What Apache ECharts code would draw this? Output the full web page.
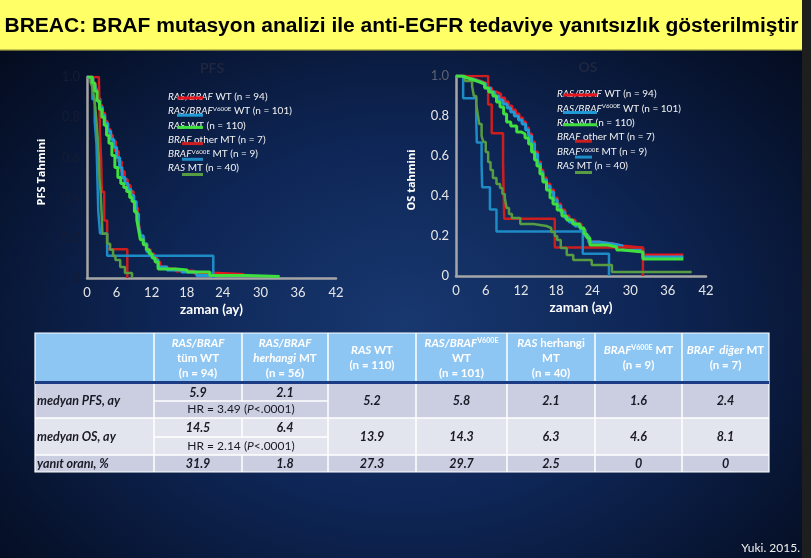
<!DOCTYPE html>
<html><head><meta charset="utf-8">
<script src="https://cdn.jsdelivr.net/npm/echarts@6.0.0/dist/echarts.min.js"></script>
<style>
html,body{margin:0;padding:0;background:#1e1e1e;}
#c{width:811px;height:558px;background:
 linear-gradient(to right, rgba(0,0,0,0) 802px, #1e1e1e 802px),
 radial-gradient(ellipse 72% 78% at 50% 58%, #183870 0%, #0e2656 42%, #07132e 78%, #030818 100%);}
</style></head>
<body><div id="c"></div>
<script>
// ---------------- data ----------------
const titleText = 'BREAC: BRAF mutasyon analizi ile anti-EGFR tedaviye yanıtsızlık gösterilmiştir';
const pfsTitle = 'PFS';
const osTitle = 'OS';
const xName = 'zaman (ay)';
const pfsYName = 'PFS Tahmini';
const osYName = 'OS tahmini';
const xTicks = [0, 6, 12, 18, 24, 30, 36, 42];
const yTicks = [0, 0.2, 0.4, 0.6, 0.8, 1.0];
const seriesNames = ['RAS/BRAF WT (n = 94)', 'RAS/BRAF V600E WT (n = 101)', 'RAS WT (n = 110)',
                     'BRAF other MT (n = 7)', 'BRAF V600E MT (n = 9)', 'RAS MT (n = 40)'];
const legendLabels = ['{i|RAS/BRAF} WT (n = 94)', '{i|RAS/BRAF}{s|V600E} WT (n = 101)', '{i|RAS} WT (n = 110)',
                      '{i|BRAF} other MT (n = 7)', '{i|BRAF}{s|V600E} MT (n = 9)', '{i|RAS} MT (n = 40)'];
const curveColors = ['#e8161c', '#1f9ad6', '#3fdf3f', '#cc1e1e', '#1d8bc6', '#579c42'];

// PFS curves [months, survival]
const pfsRasBrafWT = [[0,1],[0.6,1],[1.0,0.97],[1.4,0.94],[1.8,0.90],[2.1,0.86],[2.5,0.82],[3.0,0.78],[3.4,0.74],[3.9,0.71],[4.3,0.68],[4.8,0.63],[5.3,0.58],[5.8,0.53],[6.3,0.49],[6.8,0.46],[7.3,0.43],[7.8,0.40],[8.1,0.35],[8.5,0.30],[8.8,0.25],[9.1,0.20],[9.6,0.17],[10.1,0.14],[10.7,0.12],[11.3,0.10],[11.8,0.08],[12.3,0.055],[13.5,0.045],[15,0.035],[18,0.025],[21,0.018],[26.5,0.018]];
const pfsV600eWT = [[0,1],[0.6,1],[1.0,0.96],[1.4,0.93],[1.8,0.89],[2.2,0.85],[2.6,0.81],[3.0,0.77],[3.5,0.73],[4.0,0.69],[4.5,0.65],[5.0,0.60],[5.5,0.55],[5.9,0.50],[6.4,0.47],[6.9,0.44],[7.4,0.41],[7.9,0.38],[8.3,0.32],[8.7,0.26],[9.0,0.21],[9.5,0.17],[10.1,0.13],[10.7,0.11],[11.4,0.09],[12.0,0.055],[13.5,0.04],[16,0.03],[18.5,0.012],[22,0.012]];
const pfsRasWT = [[0,1],[0.5,1],[0.9,0.97],[1.3,0.93],[1.7,0.88],[2.1,0.84],[2.5,0.80],[2.9,0.76],[3.3,0.71],[3.7,0.67],[4.2,0.61],[4.7,0.55],[5.2,0.50],[5.7,0.47],[6.2,0.45],[6.7,0.43],[7.2,0.40],[7.6,0.38],[8.0,0.33],[8.4,0.29],[8.7,0.24],[9.0,0.19],[9.5,0.165],[10.0,0.14],[10.5,0.12],[11.0,0.10],[11.5,0.08],[12.0,0.045],[15,0.04],[16.9,0.03],[20.7,0.012],[27,0.008],[32.5,0.008]];
const pfsBrafOtherMT = [[0,1],[2.0,1],[2.1,0.857],[2.2,0.714],[2.4,0.571],[2.5,0.429],[2.9,0.286],[3.4,0.143],[6.8,0]];
const pfsBrafV600eMT = [[0,1],[0.9,0.889],[1.3,0.778],[1.6,0.667],[1.7,0.556],[1.8,0.444],[1.9,0.333],[2.2,0.222],[3.4,0.111],[21.3,0]];
const pfsRasMT = [[0,1],[0.6,0.975],[0.9,0.95],[1.2,0.90],[1.4,0.85],[1.6,0.78],[1.8,0.70],[2.0,0.60],[2.1,0.50],[2.3,0.43],[2.5,0.30],[2.6,0.22],[3.4,0.17],[3.9,0.14],[4.4,0.11],[4.8,0.09],[5.6,0.055],[6.4,0.025],[7.6,0]];

// OS curves [months, survival]
const osRasBrafWT = [[0,1],[1.5,0.99],[2.5,0.98],[3.5,0.97],[4.5,0.96],[5.3,0.94],[6.0,0.92],[6.8,0.91],[7.5,0.89],[8.2,0.87],[8.8,0.85],[9.4,0.83],[10.0,0.81],[10.6,0.79],[11.2,0.77],[11.7,0.74],[12.2,0.71],[12.7,0.67],[13.2,0.62],[13.7,0.57],[14.2,0.53],[14.6,0.49],[15.2,0.46],[15.8,0.43],[16.4,0.39],[17.0,0.36],[17.6,0.33],[18.3,0.30],[19.0,0.28],[20.0,0.26],[21.0,0.23],[21.7,0.20],[22.3,0.17],[24,0.16],[26.4,0.15],[28,0.14],[31.4,0.105],[38.2,0.105]];
const osV600eWT = [[0,1],[1.2,0.99],[2.2,0.98],[3.2,0.97],[4.2,0.96],[5.0,0.94],[5.8,0.92],[6.5,0.90],[7.2,0.88],[7.9,0.86],[8.6,0.84],[9.2,0.82],[9.8,0.80],[10.5,0.78],[11.1,0.76],[11.7,0.73],[12.2,0.70],[12.7,0.66],[13.2,0.61],[13.7,0.56],[14.2,0.52],[14.6,0.48],[15.2,0.45],[15.8,0.42],[16.4,0.38],[17.0,0.35],[17.6,0.32],[18.3,0.29],[19.0,0.27],[20.0,0.25],[21.0,0.23],[21.7,0.20],[22.3,0.17],[24,0.16],[26.4,0.15],[28,0.13],[31.4,0.095],[38.2,0.095]];
const osRasWT = [[0,1],[1,0.99],[2,0.98],[3,0.97],[4,0.96],[4.8,0.94],[5.5,0.92],[6.2,0.90],[6.8,0.87],[7.4,0.845],[8.0,0.81],[8.5,0.77],[9.2,0.75],[10.2,0.72],[11.0,0.71],[11.6,0.69],[12.2,0.66],[12.7,0.62],[13.2,0.58],[13.6,0.55],[14.1,0.51],[14.6,0.47],[15.2,0.43],[15.8,0.39],[16.3,0.36],[17.0,0.33],[17.8,0.30],[18.6,0.28],[19.6,0.26],[20.8,0.24],[21.5,0.21],[22.0,0.19],[22.5,0.155],[25.5,0.145],[27,0.13],[28,0.12],[31.4,0.085],[38.2,0.085]];
const osBrafOtherMT = [[0,1],[5.4,0.857],[6.0,0.714],[7.9,0.571],[8.0,0.429],[8.1,0.286],[16.6,0.143],[31.4,0]];
const osBrafV600eMT = [[0,1],[1.2,0.889],[3.4,0.778],[3.5,0.667],[4.3,0.556],[4.4,0.444],[5.7,0.333],[6.8,0.222],[21.3,0.111],[25.7,0]];
const osRasMT = [[0,1],[1.5,0.975],[2.7,0.95],[3.0,0.90],[3.4,0.86],[3.7,0.80],[3.9,0.76],[4.3,0.70],[4.6,0.67],[5.0,0.62],[5.4,0.57],[5.8,0.53],[6.2,0.49],[6.8,0.46],[7.4,0.44],[7.8,0.41],[8.2,0.39],[8.5,0.34],[8.9,0.31],[9.4,0.29],[10.8,0.26],[13,0.25],[15.2,0.24],[16.0,0.22],[16.6,0.20],[17.0,0.18],[17.6,0.14],[18.6,0.105],[19.7,0.08],[22.8,0.055],[26.2,0.02],[39.6,0.02]];

// table
const tableHeaders = [
  ['{i|RAS/BRAF}', 'tüm WT', '(n = 94)'],
  ['{i|RAS/BRAF}', '{i|herhangi} MT', '(n = 56)'],
  ['{i|RAS} WT', '(n = 110)'],
  ['{i|RAS/BRAF}{s|V600E}', 'WT', '(n = 101)'],
  ['{i|RAS} herhangi', 'MT', '(n = 40)'],
  ['{i|BRAF}{s|V600E} MT', '(n = 9)'],
  ['{i|BRAF  diğer} MT', '(n = 7)']
];
const rowLabels = ['medyan PFS, ay', 'medyan OS, ay', 'yanıt oranı, %'];
const pfsMedians = [5.9, 2.1, 5.2, 5.8, 2.1, 1.6, 2.4];
const osMedians = [14.5, 6.4, 13.9, 14.3, 6.3, 4.6, 8.1];
const responseRates = [31.9, 1.8, 27.3, 29.7, 2.5, 0, 0];
const hrLabels = ['HR = 3.49 ({i|P}<.0001)', 'HR = 2.14 ({i|P}<.0001)'];
const sourceNote = 'Yuki. 2015.';

// ---------------- helpers ----------------
function fnt(size, weight, italic, family) {
  return {fontSize: size, fontWeight: weight || 'normal', fontStyle: italic ? 'italic' : 'normal', fontFamily: family || 'Lato'};
}
function richSet(size, weight, color, family) {
  return {
    n: Object.assign({fill: color}, fnt(size, weight, false, family)),
    i: Object.assign({fill: color}, fnt(size, weight, true, family)),
    s: Object.assign({fill: color, verticalAlign: 'top'}, fnt(Math.round(size * 0.62 * 10) / 10, weight, false, family))
  };
}
function txt(x, y, text, size, weight, italic, color, align, extra) {
  const st = Object.assign({
    text: text, fill: color, align: align || 'center', verticalAlign: 'middle',
    rich: richSet(size, weight, color)
  }, fnt(size, weight, italic));
  return Object.assign({type: 'text', x: x, y: y, silent: true, style: st}, extra || {});
}

// title size fitted to the slide width
const mc = document.createElement('canvas').getContext('2d');
mc.font = 'bold 20px "Liberation Sans"';
const titleFs = 20 * 795 / mc.measureText(titleText).width;

const G = [];
G.push({type: 'rect', shape: {x: 0, y: 0, width: 802, height: 50}, style: {fill: '#ffff66'}, silent: true});
G.push({type: 'rect', shape: {x: 0, y: 49.5, width: 802, height: 1.2}, style: {fill: '#8c8c38'}, silent: true});
G.push({type: 'text', x: 401.5, y: 26.5, silent: true, style: {text: titleText, fill: '#000', align: 'center', verticalAlign: 'middle',
  fontSize: titleFs, fontWeight: 'bold', fontFamily: '"Liberation Sans", Arial, sans-serif'}});

// chart titles and y names
G.push(txt(212, 68, pfsTitle, 14, 'bold', false, '#1f263e'));
G.push(txt(588, 67, osTitle, 14, 'bold', false, '#1f263e'));
G.push({type: 'text', x: 42, y: 172, rotation: Math.PI / 2, silent: true,
  style: Object.assign({text: pfsYName, fill: '#ffffff', align: 'center', verticalAlign: 'middle'}, fnt(11, 'bold', false, '"Open Sans"'))});
G.push({type: 'text', x: 412, y: 180, rotation: Math.PI / 2, silent: true,
  style: Object.assign({text: osYName, fill: '#ffffff', align: 'center', verticalAlign: 'middle'}, fnt(11, 'bold', false, '"Open Sans"'))});

// legends
const lgLineY = [1, 4, 2, 4, 5.5, 6.5];
function legend(x0, y0, dy, segA, segB) {
  legendLabels.forEach((lab, k) => {
    const y = y0 + k * dy;
    G.push(txt(x0, y, lab, 10, 'normal', false, '#f2f2f2', 'left'));
    const seg = k < 3 ? segA : segB;
    G.push({type: 'line', silent: true, z: 5,
      shape: {x1: x0 + seg[0], y1: y + lgLineY[k], x2: x0 + seg[1], y2: y + lgLineY[k]},
      style: {stroke: curveColors[k], lineWidth: 3}});
  });
}
legend(168, 97, 14.2, [9, 35], [14, 35]);
legend(557, 94, 14.4, [6, 40], [18, 35]);

// table
const cx = [35, 154, 242, 328, 416, 507, 595, 682, 769];
const tw = cx[8] - cx[0];
G.push({type: 'rect', silent: true, shape: {x: cx[0], y: 333, width: tw, height: 49}, style: {fill: '#8ec6f3'}});
G.push({type: 'rect', silent: true, shape: {x: cx[0], y: 384, width: tw, height: 34}, style: {fill: '#cacee0'}});
G.push({type: 'rect', silent: true, shape: {x: cx[0], y: 418, width: tw, height: 37}, style: {fill: '#e2e5ee'}});
G.push({type: 'rect', silent: true, shape: {x: cx[0], y: 455, width: tw, height: 17}, style: {fill: '#cacee0'}});
const wl = (x1, y1, x2, y2) => G.push({type: 'line', silent: true, shape: {x1, y1, x2, y2}, style: {stroke: '#ffffff', lineWidth: 1.5}});
for (let k = 1; k < 8; k++) {
  if (k === 2) { wl(cx[k], 333, cx[k], 401); wl(cx[k], 418, cx[k], 437); wl(cx[k], 455, cx[k], 472); }
  else wl(cx[k], 333, cx[k], 472);
}
wl(cx[0], 418, cx[8], 418); wl(cx[0], 455, cx[8], 455);
wl(cx[1], 401, cx[3], 401); wl(cx[1], 437, cx[3], 437);
G.push({type: 'rect', silent: true, shape: {x: cx[0], y: 333, width: tw, height: 139}, style: {fill: 'none', stroke: '#ffffff', lineWidth: 1.2}});
G.push({type: 'rect', silent: true, shape: {x: cx[0], y: 381, width: tw, height: 3}, style: {fill: '#1c3b85'}});

tableHeaders.forEach((lines, k) => {
  const x = (cx[k + 1] + cx[k + 2]) / 2;
  const ys = lines.length === 3 ? [343, 358, 373] : [350.5, 365.5];
  lines.forEach((ln, j) => G.push(txt(x, ys[j], ln, 11.5, 'bold', false, '#ffffff')));
});
const dark = '#1a1a26';
[400.5, 436.5, 463.5].forEach((y, r) => G.push(txt(37, y, rowLabels[r], 12.5, 'bold', true, dark, 'left')));
const fmt = v => String(v);
pfsMedians.forEach((v, k) => {
  const x = (cx[k + 1] + cx[k + 2]) / 2;
  G.push(txt(x, k < 2 ? 392.5 : 401, fmt(v), 12.5, 'bold', true, dark));
});
osMedians.forEach((v, k) => {
  const x = (cx[k + 1] + cx[k + 2]) / 2;
  G.push(txt(x, k < 2 ? 427.5 : 436.5, fmt(v), 12.5, 'bold', true, dark));
});
responseRates.forEach((v, k) => {
  const x = (cx[k + 1] + cx[k + 2]) / 2;
  G.push(txt(x, 463.5, fmt(v), 12.5, 'bold', true, dark));
});
G.push(txt((cx[1] + cx[3]) / 2, 409.5, hrLabels[0], 12, 'normal', false, dark));
G.push(txt((cx[1] + cx[3]) / 2, 446, hrLabels[1], 12, 'normal', false, dark));

G.push(txt(800, 548, sourceNote, 12, 'normal', false, '#f0f0f0', 'right'));

// ---------------- chart ----------------
const labelShift = {0: 0, 6: 6, 12: 6.5, 18: 7, 24: 6.5, 30: 4.3, 36: 2.5, 42: 0};
const xRich = {};
xTicks.forEach(v => {
  xRich['p' + v] = {color: '#e6e6e6', fontSize: 13, fontFamily: 'Lato', fontWeight: 'normal', padding: [0, 2 * labelShift[v], 0, 0]};
});
function xAx(gi) {
  return {type: 'value', gridIndex: gi, min: xTicks[0], max: xTicks[xTicks.length - 1], interval: xTicks[1] - xTicks[0],
    axisLine: {show: true, onZero: false, lineStyle: {color: '#a6a6a6', width: 2.5}},
    axisTick: {show: false}, splitLine: {show: false},
    axisLabel: {margin: 8, showMinLabel: true, showMaxLabel: true, color: '#e6e6e6', fontSize: 13, fontFamily: 'Lato',
      formatter: v => '{p' + v + '|' + v + '}', rich: xRich},
    name: xName, nameLocation: 'middle', nameGap: 25,
    nameTextStyle: {color: '#ffffff', fontWeight: 'bold', fontSize: 13.5, fontFamily: 'Lato'}};
}
const yFmt = v => (v === 0 ? '0' : v.toFixed(1));
function yAx(gi, label) {
  return {type: 'value', gridIndex: gi, min: yTicks[0], max: yTicks[yTicks.length - 1], interval: yTicks[1] - yTicks[0],
    axisLine: {show: true, onZero: false, lineStyle: {color: '#a6a6a6', width: 2.5}},
    axisTick: {show: false}, splitLine: {show: false},
    axisLabel: Object.assign({margin: 7, showMinLabel: true, showMaxLabel: true, fontSize: 13, fontFamily: 'Lato'}, label)};
}
const yLabelPfs = {color: '#151c34', formatter: yFmt};
const yLabelOs = {color: '#e6e6e6', formatter: v => (v >= 0.99 ? '{t|1.0}' : yFmt(v)),
  rich: {t: {color: '#5e6272', fontSize: 13, fontFamily: 'Lato', fontWeight: 'normal'}}};
const widths = [3, 3, 3, 2.5, 2.5, 2.5];
function km(k, data, gi) {
  return {type: 'line', name: seriesNames[k], data: data, step: 'end', xAxisIndex: gi, yAxisIndex: gi,
    symbol: 'none', showSymbol: false, silent: true, animation: false, z: 2 + (k === 2 ? 1 : 0),
    lineStyle: {color: curveColors[k], width: widths[k]}, itemStyle: {color: curveColors[k]}};
}
const pfsSets = [pfsRasBrafWT, pfsV600eWT, pfsRasWT, pfsBrafOtherMT, pfsBrafV600eMT, pfsRasMT];
const osSets = [osRasBrafWT, osV600eWT, osRasWT, osBrafOtherMT, osBrafV600eMT, osRasMT];

const chart = echarts.init(document.getElementById('c'), null, {renderer: 'canvas', width: 811, height: 558});
chart.setOption({
  backgroundColor: 'transparent',
  animation: false,
  grid: [{left: 87, top: 77, width: 249, height: 201}, {left: 456, top: 76, width: 250, height: 200}],
  xAxis: [xAx(0), xAx(1)],
  yAxis: [yAx(0, yLabelPfs), yAx(1, yLabelOs)],
  series: pfsSets.map((d, k) => km(k, d, 0)).concat(osSets.map((d, k) => km(k, d, 1))),
  graphic: {elements: G}
});
</script>
</body></html>
